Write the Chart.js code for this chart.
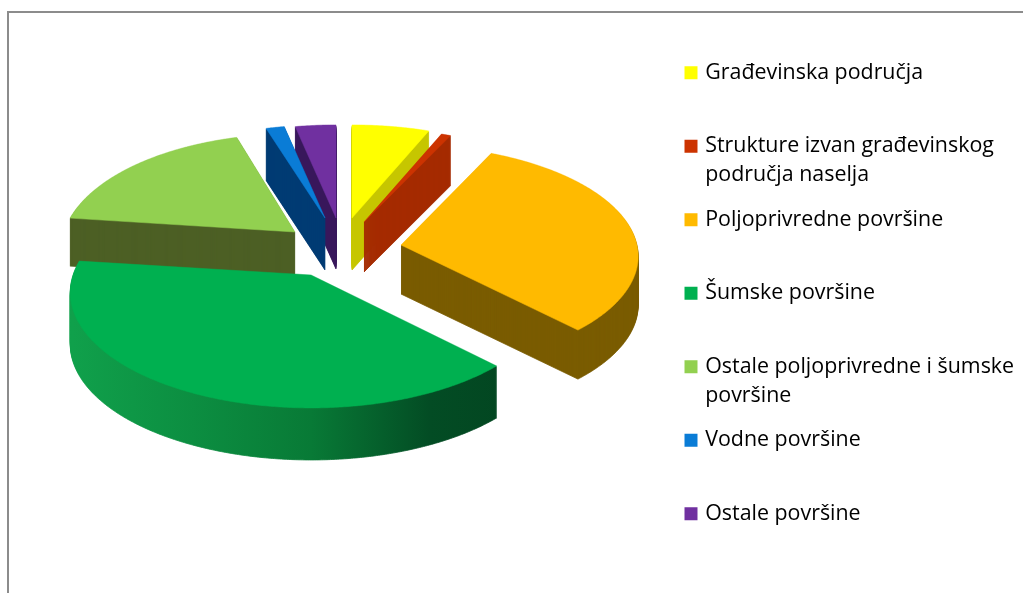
<!DOCTYPE html>
<html>
<head>
<meta charset="utf-8">
<style>
html,body{margin:0;padding:0;width:1023px;height:593px;overflow:hidden;background:#fff}
#frame{position:absolute;left:7px;top:11px;width:1030px;height:600px;border:2px solid #8c8c8c}
canvas{position:absolute;left:0;top:0}
</style>
<script src="https://cdn.jsdelivr.net/npm/chart.js@4"></script>
</head>
<body>
<div id="frame"></div>
<canvas id="pie" width="1023" height="593"></canvas>
<script>
// share of each land use
const categories=[
    'Građevinska područja',
    ['Strukture izvan građevinskog','područja naselja'],
    'Poljoprivredne površine',
    'Šumske površine',
    ['Ostale poljoprivredne i šumske','površine'],
    'Vodne površine',
    'Ostale površine'
]
const shares=[6.1,0.75,30.9,39.25,18.35,1.45,3.2]
const topColors=['#ffff00','#cc3300','#ffba00','#00b050','#92d050','#0a7cd6','#7030a0']
const sideColors=[
    ['#c6c600'],
    ['#a52b00'],
    ['#7a5c00'],
    ['#10a04b','#0c8e41','#087a36','#034c24','#02431f'],
    ['#4c5f25'],
    ['#003b73'],
    ['#39185c']
]

// how each exploded wedge sits on the page: tip, x radius, y radius, thickness, perspective
const views=[
    {x:352,y:218,rx:234,ry:107,depth:52,p:0.15},
    {x:364,y:222,rx:236,ry:108,depth:50,p:0.15},
    {x:401,y:245,rx:236,ry:110,depth:49,p:0.1},
    {x:311,y:275,rx:238,ry:113,depth:52,p:0.15},
    {x:295,y:232,rx:231,ry:113,depth:48,p:0.15},
    {x:325,y:218,rx:234,ry:107,depth:52,p:0.15},
    {x:336,y:218,rx:234,ry:107,depth:51,p:0.15}
]
// back wedges first so the front ones cover them
const drawOrder=[0,1,6,5,4,2,3]

// wedge outline from the angles the pie controller worked out
function wedgePath(arc,view){
    const path=new Path2D()
    path.moveTo(view.x,view.y)
    const steps=Math.ceil((arc.endAngle-arc.startAngle)*120)
    for(let s=0;s<=steps;s++){
        const a=arc.startAngle+(arc.endAngle-arc.startAngle)*s/steps
        const w=1-view.p*Math.sin(a)
        path.lineTo(view.x+view.rx*Math.cos(a)/w,view.y+view.ry*Math.sin(a)/w)
    }
    path.closePath()
    return path
}

function sideFill(ctx,view,colors){
    if(colors.length===1) return colors[0]
    const grad=ctx.createLinearGradient(view.x-view.rx,0,view.x+view.rx,0)
    colors.forEach((c,i)=>grad.addColorStop(i/(colors.length-1),c))
    return grad
}

const tiltedPie={
    id:'tiltedPie',
    afterLayout(chart){
        chart.legend.left=672
        chart.legend.top=30.3
    },
    beforeDatasetsDraw(chart){
        const ctx=chart.ctx
        const arcs=chart.getDatasetMeta(0).data
        for(let i of drawOrder){
            const view=views[i]
            const path=wedgePath(arcs[i],view)
            const fill=sideFill(ctx,view,sideColors[i])
            ctx.save()
            ctx.fillStyle=fill
            ctx.strokeStyle=fill
            ctx.lineWidth=0.8
            ctx.lineJoin='bevel'
            for(let d=view.depth;d>0;d--){
                ctx.save()
                ctx.translate(0,d)
                ctx.fill(path)
                ctx.stroke(path)
                ctx.restore()
            }
            ctx.fillStyle=arcs[i].options.backgroundColor
            ctx.strokeStyle=arcs[i].options.backgroundColor
            ctx.lineWidth=0.5
            ctx.fill(path)
            ctx.stroke(path)
            ctx.restore()
        }
        return false
    }
}

new Chart(document.getElementById('pie'),{
    type:'pie',
    plugins:[tiltedPie],
    data:{
        labels:categories,
        datasets:[{data:shares,backgroundColor:topColors,borderWidth:0}]
    },
    options:{
        responsive:false,
        animation:false,
        events:[],
        plugins:{
            tooltip:{enabled:false},
            legend:{
                position:'right',
                labels:{
                    boxWidth:7,
                    boxHeight:7,
                    padding:15.5,
                    color:'#111',
                    font:{family:'Open Sans',size:21.4,lineHeight:1.355},
                    // every entry takes two lines so the rows stay evenly spaced
                    generateLabels(chart){
                        return categories.map((c,i)=>{
                            const lines=[].concat(c)
                            if(lines.length<2) lines.push('')
                            return {text:lines,fillStyle:topColors[i],strokeStyle:topColors[i],lineWidth:6,index:i}
                        })
                    }
                }
            }
        }
    }
})
</script>
</body>
</html>
